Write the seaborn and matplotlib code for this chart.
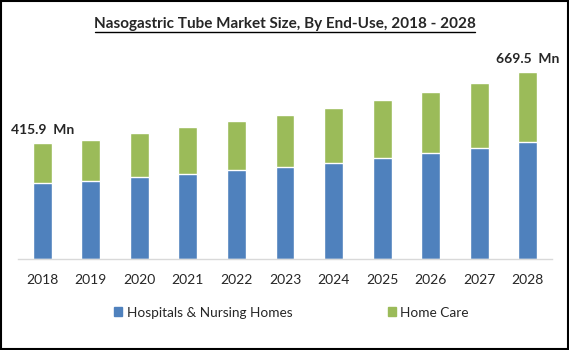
import numpy as np
import pandas as pd
import matplotlib.pyplot as plt
import seaborn as sns
from matplotlib.patches import Patch, Rectangle

# values (USD Mn)
years = ['2018', '2019', '2020', '2021', '2022', '2023', '2024', '2025', '2026', '2027', '2028']
hospitals = [273.6, 280.7, 294.0, 305.9, 319.0, 330.0, 345.0, 362.0, 380.6, 398.5, 419.0]
home_care = [142.3, 146.0, 157.8, 167.1, 175.7, 186.0, 196.0, 207.0, 217.4, 231.5, 250.5]
series_names = ['Hospitals & Nursing Homes', 'Home Care']
labelled = {'2018': '415.9  Mn', '2028': '669.5  Mn'}

blue = '#4f81bd'
green = '#9bbb59'

df = pd.DataFrame({'year': years, 'hosp': hospitals, 'home': home_care})
df['total'] = df['hosp'] + df['home']

sns.set_style('white')
plt.rcParams['font.family'] = ['Lato', 'DejaVu Sans']

fig = plt.figure(figsize=(5.69, 3.5), dpi=100)
ax = fig.add_axes([0.0316, 0.26, 0.9385, 0.558])

# stacked bars: total in green, hospitals drawn over it in blue
sns.barplot(data=df, x='year', y='total', color=green, width=0.39, saturation=1, ax=ax)
sns.barplot(data=df, x='year', y='hosp', color=blue, width=0.39, saturation=1, ax=ax)

for i, y in enumerate(years):
    if y in labelled:
        ax.annotate(labelled[y], (i, df['total'][i]), xytext=(0, 5), textcoords='offset points',
                    ha='center', va='bottom', fontsize=10, fontweight='bold')

ax.set_ylim(0, 700)
ax.set_xlim(-0.5, 10.5)
ax.set_xlabel('')
ax.set_ylabel('')
ax.set_yticks([])
ax.tick_params(axis='x', length=0, labelsize=10, pad=11)
sns.despine(ax=ax, left=True)
ax.spines['bottom'].set_color('#d9d9d9')
ax.spines['bottom'].set_linewidth(1)

fig.text(0.5, 0.932, 'Nasogastric Tube Market Size, By End-Use, 2018 - 2028',
         ha='center', va='center', fontsize=11, fontweight='bold')
# underline of the title
fig.add_artist(plt.Line2D([0.167, 0.835], [0.909, 0.909], color='black', lw=1))

handles = [Patch(color=blue), Patch(color=green)]
fig.legend(handles, series_names, loc='center', bbox_to_anchor=(0.512, 0.107), ncol=2,
           frameon=False, fontsize=9.8, handlelength=0.6, handleheight=0.6,
           handletextpad=0.35, columnspacing=7)

fig.add_artist(Rectangle((0.001, 0.002), 0.997, 0.996, transform=fig.transFigure,
                         fill=False, edgecolor='black', lw=1.5))

fig.savefig('out.png', dpi=100)
